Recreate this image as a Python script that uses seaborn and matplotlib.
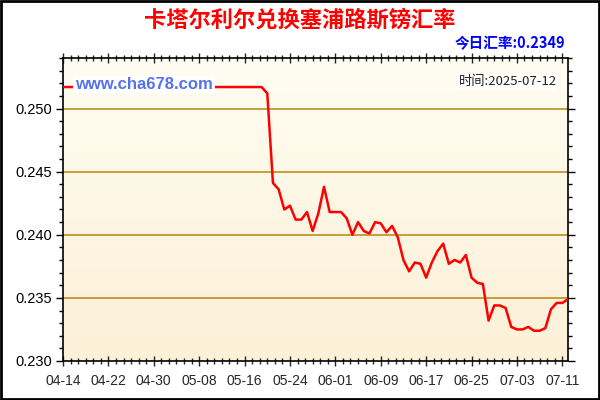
import pandas as pd
import numpy as np
import seaborn as sns
import matplotlib.pyplot as plt
import matplotlib.dates as mdates
from matplotlib.ticker import MultipleLocator, FormatStrFormatter
from matplotlib.patches import Rectangle
from matplotlib.colors import LinearSegmentedColormap

# --- data ---
start_date = "2025-04-14"
end_date = "2025-07-12"
# flat period 04-14 .. 05-19
flat_rate = [0.2517] * 36
moving_rate = [
    0.2512, 0.2441, 0.2436, 0.2420, 0.2423, 0.2412, 0.2412, 0.2418, 0.2403, 0.2417,
    0.2438, 0.2418, 0.2418, 0.2418, 0.2413, 0.2400, 0.2410, 0.2403, 0.2401, 0.2410,
    0.2409, 0.2402, 0.2407, 0.2398, 0.2380, 0.2371, 0.2378, 0.2377, 0.2366, 0.2378,
    0.2387, 0.2393, 0.2377, 0.2380, 0.2378, 0.2384, 0.2366, 0.2362, 0.2361, 0.2332,
    0.2344, 0.2344, 0.2342, 0.2327, 0.2325, 0.2325, 0.2327, 0.2324, 0.2324, 0.2326,
    0.2341, 0.2346, 0.2346, 0.2349,
]
dates = pd.date_range(start_date, end_date, freq="D")
rates = flat_rate + moving_rate

title = "卡塔尔利尔兑换塞浦路斯镑汇率"
today_label = "今日汇率:0.2349"
time_label = "时间:2025-07-12"
site_label = "www.cha678.com"

df = pd.DataFrame({"date": dates, "rate": rates})

# --- style ---
sns.set_theme(style="ticks")
plt.rcParams["font.family"] = ["Liberation Sans", "Noto Sans CJK SC", "DejaVu Sans"]
cjk = ["Noto Sans CJK SC", "DejaVu Sans"]

fig = plt.figure(figsize=(6, 4), dpi=100)
fig.patch.set_facecolor("white")
ax = fig.add_axes([63 / 600, 1 - 361 / 400, 505 / 600, 303 / 400])

# cream gradient background (light on top, darker cream at bottom)
grad = np.linspace(0, 1, 256).reshape(-1, 1)
bg_cmap = LinearSegmentedColormap.from_list("bg", ["#FFFDF2", "#FCF0D7"])
ax.imshow(grad, cmap=bg_cmap, aspect="auto", extent=[0, 1, 0, 1], origin="upper",
          transform=ax.transAxes, zorder=0)

sns.lineplot(data=df, x="date", y="rate", color="#FF0000", linewidth=1.8, ax=ax, zorder=3)

ax.set_xlim(dates[0], dates[-1])
ax.set_ylim(0.230, 0.254)
ax.set_xlabel("")
ax.set_ylabel("")

# horizontal grid only
ax.grid(False)
for yv in [0.235, 0.240, 0.245, 0.250]:
    ax.axhline(yv, color="#B8860B", linewidth=1.1, zorder=1)

# ticks
ax.yaxis.set_major_locator(MultipleLocator(0.005))
ax.yaxis.set_minor_locator(MultipleLocator(0.001))
ax.yaxis.set_major_formatter(FormatStrFormatter("%.3f"))
major_x = pd.date_range(start_date, end_date, freq="8D")
minor_x = pd.date_range(start_date, end_date, freq="32h")
ax.set_xticks(major_x)
ax.set_xticks(minor_x, minor=True)
ax.xaxis.set_major_formatter(mdates.DateFormatter("%m-%d"))

ax.tick_params(axis="y", which="both", direction="out", left=True, right=True,
               labelsize=10.5, colors="black", pad=3)
ax.tick_params(axis="y", which="major", length=5, width=1)
ax.tick_params(axis="y", which="minor", length=3, width=1)
ax.tick_params(axis="x", which="both", direction="inout", bottom=True, top=True,
               labelsize=10, pad=6)
ax.tick_params(axis="x", which="major", length=7, width=1)
ax.tick_params(axis="x", which="minor", length=5, width=1)
for s in ax.spines.values():
    s.set_color("black")
    s.set_linewidth(1.2)

# texts
fig.text(0.5, 1 - 20 / 400, title, ha="center", va="center", fontsize=16,
         fontweight="bold", color="#FF0000", family=cjk)
fig.text(565 / 600, 1 - 43 / 400, today_label, ha="right", va="center", fontsize=10.5,
         fontweight="bold", color="#0000FF", family=cjk)
ax.text(0.024, 0.911, site_label, transform=ax.transAxes, ha="left", va="center",
        fontsize=12, fontweight="bold", color="#5572EC", zorder=5,
        bbox=dict(boxstyle="square,pad=0.1", facecolor="white", edgecolor="none"))
ax.text(0.978, 0.921, time_label, transform=ax.transAxes, ha="right", va="center",
        fontsize=9.5, color="#222222", zorder=5, family=cjk,
        bbox=dict(boxstyle="square,pad=0.1", facecolor="#FFFFFF", edgecolor="none"))

# outer black frame
fig.patches.append(Rectangle((0.002, 0.003), 0.996, 0.994, transform=fig.transFigure,
                             fill=False, edgecolor="black", linewidth=2))

fig.savefig("out.png", dpi=100)
